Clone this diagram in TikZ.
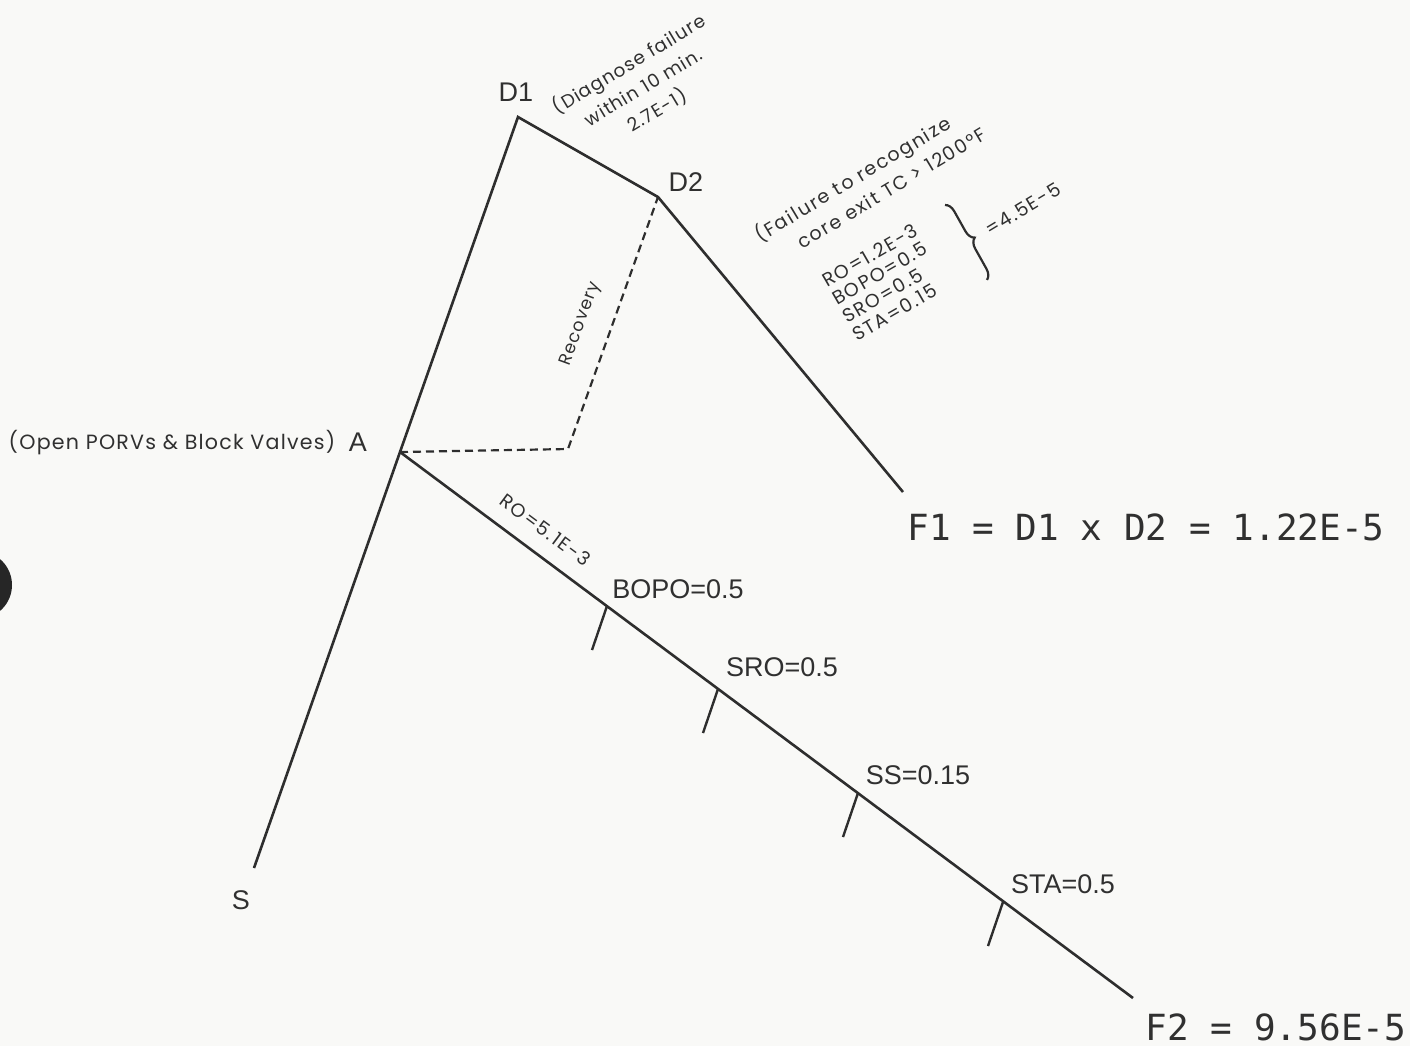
\documentclass[tikz,border=0pt]{standalone}
\usepackage{fontspec}
\setmainfont{Liberation Sans}
\newfontfamily\annotfont[LetterSpace=9]{Poppins}
\newfontfamily\annotfontb[LetterSpace=6]{Poppins}
\newfontfamily\monofont{DejaVu Sans Mono}
\usetikzlibrary{decorations.pathreplacing}
\definecolor{ink}{HTML}{2E2E2E}
\definecolor{txt}{HTML}{303030}
\definecolor{paper}{HTML}{F9F9F7}
\begin{document}
\begin{tikzpicture}[x=0.5pt,y=-0.5pt,
  branch/.style={draw=ink,line width=1.3pt},
  recpath/.style={draw=ink,line width=1.1pt,dash pattern=on 4pt off 2.5pt},
  tick/.style={draw=ink,line width=1.2pt},
  big/.style={text=txt,inner sep=0pt,font=\fontsize{13.5}{15}\selectfont},
  result/.style={text=txt,inner sep=0pt,font=\monofont\fontsize{18}{20}\selectfont},
  small/.style={text=txt,inner sep=0pt,font=\annotfont\fontsize{9.5}{10}\selectfont}]
\fill[paper] (0,0) rectangle (1410,1046);
\useasboundingbox (0,0) rectangle (1410,1046);
% scan artefact (punch hole)
\fill[black!85] (-22,585) circle (34);

% event-tree points
\coordinate (S) at (254,868);
\coordinate (A) at (400,452);
\coordinate (D1) at (518,117);
\coordinate (D2) at (658,197);
\coordinate (F1) at (903,492);
\coordinate (F2) at (1133,998);
\coordinate (R) at (568,449);
\coordinate (t1) at (607,606);
\coordinate (t2) at (718,689);
\coordinate (t3) at (858,793);
\coordinate (t4) at (1003,902);

\draw[branch] (S) -- (A) -- (D1) -- (D2) -- (F1);
\draw[branch] (A) -- (F2);
\draw[recpath] (A) -- (R) -- (D2);
\foreach \t in {t1,t2,t3,t4} \draw[tick] (\t) -- ++(-15,44);

% labels
\node[big] (lD1) at (516,92) {D1};
\node[big] (lD2) at (686,182) {D2};
\node[big] (lA) at (358,442) {A};
\node[big] (lS) at (241,900) {S};
\node[small,font=\annotfontb\fontsize{10.3}{12}\selectfont] (lAdesc) at (172,443) {(Open PORVs \& Block Valves)};
\node[big] (lBOPO) at (678,589) {BOPO=0.5};
\node[big] (lSRO) at (782,667) {SRO=0.5};
\node[big] (lSS) at (918,775) {SS=0.15};
\node[big] (lSTA) at (1063,884) {STA=0.5};
\node[result] (lF1) at (1146,527) {F1 = D1 x D2 = 1.22E-5};
\node[result] (lF2) at (1276,1027) {F2 = 9.56E-5};
\node[small,rotate=-36.7,anchor=south] (lRO) at (541,536) {RO=5.1E-3};
\node[small,rotate=70,font=\annotfontb\fontsize{8.7}{10}\selectfont] (lRec) at (581,324) {Recovery};
\node[small,rotate=31,align=center,font=\annotfontb\fontsize{9.2}{13.5}\selectfont] (lD1desc) at (643,87) {(Diagnose failure\\within 10 min.\\2.7E-1)};
\node[small,rotate=31,anchor=base west] (lD2a) at (760,243) {(Failure to recognize};
\node[small,rotate=31,anchor=base west] (lD2b) at (802,250) {core exit TC > 1200\textdegree F};
\node[small,rotate=30,anchor=base west] (lv1) at (827,288) {RO=1.2E-3};
\node[small,rotate=30,anchor=base west] (lv2) at (837,306) {BOPO=0.5};
\node[small,rotate=30,anchor=base west] (lv3) at (847,324) {SRO=0.5};
\node[small,rotate=30,anchor=base west] (lv4) at (857,342) {STA=0.15};
\coordinate (b1) at (945,205);
\coordinate (b2) at (987,280);
\draw[ink,line width=1.1pt,decorate,decoration={brace,amplitude=5pt}] (b1) -- (b2);
\node[small,rotate=31,anchor=base west] (lsum) at (990,237) {=4.5E-5};
\end{tikzpicture}
\end{document}
